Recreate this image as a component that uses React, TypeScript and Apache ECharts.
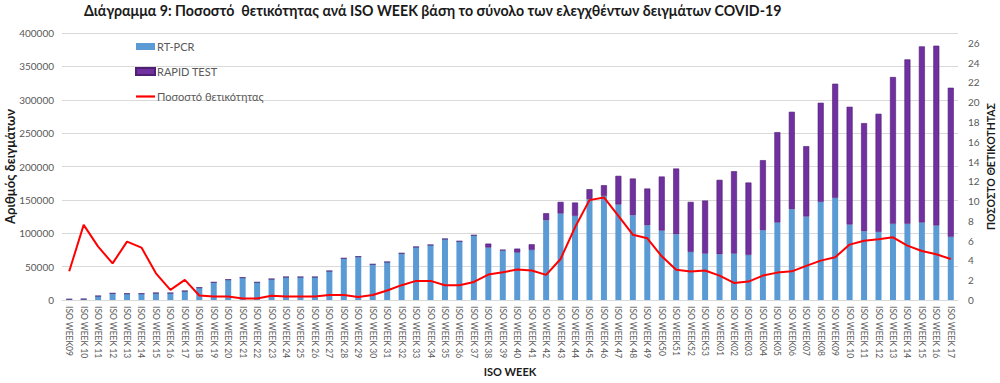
import React, { useEffect, useRef } from "react";
import * as echarts from "echarts";

const weeks2020 = ["09","10","11","12","13","14","15","16","17","18","19","20","21","22","23","24","25","26","27","28","29","30","31","32","33","34","35","36","37","38","39","40","41","42","43","44","45","46","47","48","49","50","51","52","53"];
const weeks2021 = ["01","02","03","04","05","06","07","08","09","10","11","12","13","14","15","16","17"];
const noSpace = new Set(["09","50","51","52","53","01","02","03","04","05","06","07","08"]);
const categories = [...weeks2020, ...weeks2021].map((w) => (noSpace.has(w) ? "ISO WEEK" + w : "ISO WEEK " + w));

const rtPcr = [1200,1500,6000,10000,9500,9500,10500,10500,13500,18500,26500,30500,33500,26500,31500,34500,34500,34500,43500,62500,65000,53500,57000,70000,79500,82500,91500,88000,97000,78500,74000,71000,75000,119500,129500,126000,151000,156000,143000,127000,112000,104000,98500,72000,69500,68500,69500,67500,104500,116000,136000,125000,147000,153000,113000,103000,102000,114000,114000,116000,111500,94500];
const rapidTest = [0,0,0,0,0,0,0,0,0,0,0,0,0,0,0,0,0,0,0,0,0,0,0,0,0,0,0,0,0,6000,1500,6000,8500,10500,17500,20000,15000,16000,43000,55000,55000,81000,98500,75000,79500,111500,123500,108500,105000,135500,146000,105500,148500,171000,176500,162000,177000,220000,246500,264000,269500,223500];
const positivity = [2.9,7.6,5.4,3.7,5.9,5.3,2.7,1.03,2.04,0.45,0.35,0.35,0.15,0.15,0.42,0.35,0.35,0.35,0.5,0.5,0.3,0.5,0.96,1.5,1.93,1.93,1.5,1.5,1.83,2.57,2.8,3.08,2.98,2.54,4.15,7.35,10.1,10.37,8.5,6.6,6.24,4.42,3.05,2.88,2.98,2.47,1.73,1.86,2.47,2.77,2.9,3.45,3.98,4.32,5.6,6.0,6.14,6.34,5.5,4.96,4.62,4.15];

const leftTicks = { min: 0, max: 400000, interval: 50000 };
const rightTicks = { min: 0, max: 27, interval: 2 };

const FONT = "Lato, 'Open Sans', sans-serif";
const GRAY = "#595959";

export default function App() {
  const ref = useRef<HTMLDivElement>(null);
  useEffect(() => {
    if (!ref.current) return;
    const chart = echarts.init(ref.current, null, { renderer: "svg" });
    chart.setOption({
      animation: false,
      backgroundColor: "#ffffff",
      textStyle: { fontFamily: FONT },
      title: {
        text: "Διάγραμμα 9: Ποσοστό  θετικότητας ανά ISO WEEK βάση το σύνολο των ελεγχθέντων δειγμάτων COVID-19",
        left: 79,
        top: -2,
        textStyle: { fontFamily: FONT, fontWeight: "bold", fontSize: 14.2, color: "#1a1a1a" },
      },
      legend: {
        orient: "vertical",
        left: 130,
        top: 36,
        itemWidth: 19,
        itemHeight: 7,
        itemGap: 14,
        textStyle: { fontFamily: FONT, fontSize: 11, color: GRAY, padding: [0, 0, 0, -3] },
        data: [
          { name: "RT-PCR", icon: "rect" },
          { name: "RAPID TEST", icon: "rect" },
          { name: "Ποσοστό θετικότητας", icon: "path://M0,0 L19,0 L19,2.2 L0,2.2 Z" },
        ],
      },
      grid: { left: 62, right: 42, top: 33, bottom: 83, containLabel: false, outerBoundsMode: "none" },
      xAxis: {
        type: "category",
        data: categories,
        name: "ISO WEEK",
        nameLocation: "middle",
        nameGap: 66,
        nameMoveOverlap: false,
        nameTextStyle: { fontFamily: FONT, fontWeight: "bold", fontSize: 11, color: "#1a1a1a" },
        axisLine: { lineStyle: { color: "#d9d9d9" } },
        axisTick: { show: false },
        axisLabel: { rotate: -90, interval: 0, fontSize: 8.5, color: GRAY, fontFamily: FONT, margin: 6 },
      },
      yAxis: [
        {
          type: "value",
          ...leftTicks,
          name: "Αριθμός δειγμάτων",
          nameLocation: "middle",
          nameGap: 46,
          nameMoveOverlap: false,
          nameTextStyle: { fontFamily: FONT, fontWeight: "bold", fontSize: 13, color: "#1a1a1a" },
          axisLabel: { fontSize: 10, color: GRAY, fontFamily: FONT, margin: 8, formatter: (v: number) => String(v) },
          splitLine: { lineStyle: { color: "#d9d9d9" } },
          axisLine: { show: false },
          axisTick: { show: false },
        },
        {
          type: "value",
          ...rightTicks,
          name: "ΠΟΣΟΣΤΟ ΘΕΤΙΚΟΤΗΤΑΣ",
          nameLocation: "middle",
          nameGap: 27,
          nameMoveOverlap: false,
          nameTextStyle: { fontFamily: FONT, fontWeight: "bold", fontSize: 10.5, color: "#1a1a1a" },
          axisLabel: { fontSize: 10, color: GRAY, fontFamily: FONT, margin: 10, showMaxLabel: false },
          splitLine: { show: false },
          axisLine: { show: false },
          axisTick: { show: false },
        },
      ],
      series: [
        {
          name: "RT-PCR",
          type: "bar",
          stack: "total",
          data: rtPcr,
          barWidth: 6,
          itemStyle: { color: "#5b9bd5" },
        },
        {
          name: "RAPID TEST",
          type: "bar",
          stack: "total",
          data: rapidTest,
          barWidth: 6,
          itemStyle: { color: "#7030a0", borderColor: "#4e1f73", borderWidth: 0.6 },
        },
        {
          name: "Ποσοστό θετικότητας",
          type: "line",
          yAxisIndex: 1,
          data: positivity,
          symbol: "none",
          lineStyle: { color: "#ff0000", width: 2 },
          itemStyle: { color: "#ff0000" },
          z: 5,
        },
      ],
    });
    return () => chart.dispose();
  }, []);
  return <div ref={ref} style={{ position: "absolute", left: 0, top: 0, width: 1000, height: 383 }} />;
}
